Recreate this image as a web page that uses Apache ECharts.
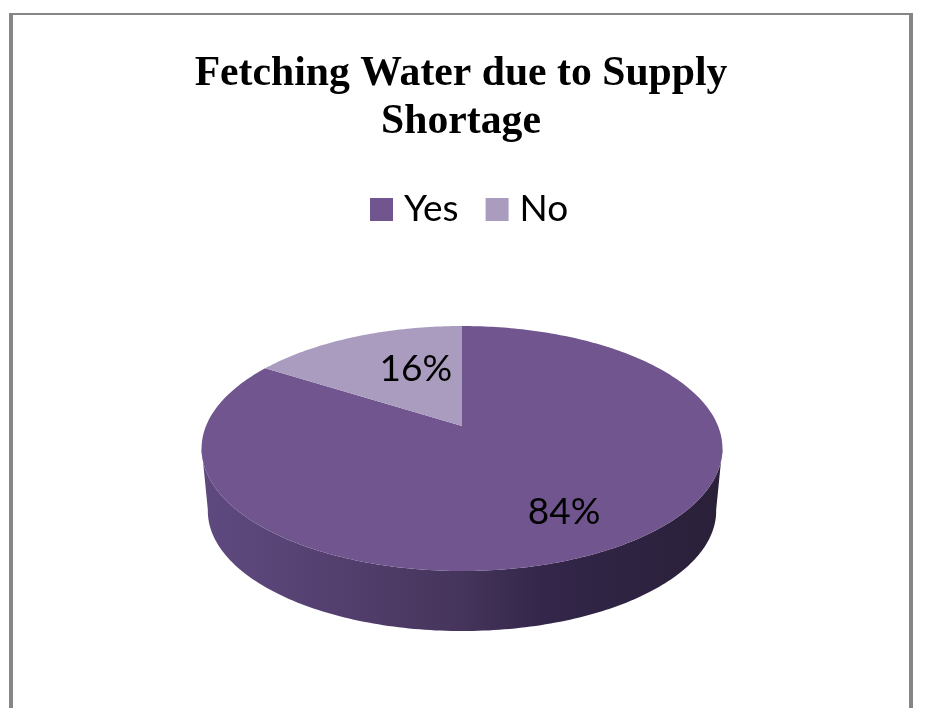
<!DOCTYPE html>
<html>
<head>
<meta charset="utf-8">
<style>html,body{margin:0;padding:0;background:#fff}#c{width:933px;height:708px}</style>
<script src="https://cdn.jsdelivr.net/npm/echarts@6/dist/echarts.min.js"></script>
</head>
<body>
<div id="c"></div>
<script>
const titleText = 'Fetching Water due to Supply\nShortage';
const categories = ['Yes', 'No'];
const shares = [84, 16];
const labels = ['84%', '16%'];
const colors = ['#70558f', '#aa9cbf'];

// Projected disc: a unit circle seen in perspective
const CX = 462, R = 256, PA = 40.1, PB = 426, PC = -0.1837;
function project(angleDeg, r) {
  const t = angleDeg * Math.PI / 180;
  const u = r * Math.sin(t), v = -r * Math.cos(t);
  const w = 1 + PC * v;
  return [CX + R * u / w, (PA * v + PB) / w];
}
function lower(p) { // bottom rim of the disc
  return [CX + (p[0] - CX) * 0.976, 511 + (p[1] - 448.5) * 0.98];
}
const total = shares.reduce((a, b) => a + b, 0);
const starts = shares.map((_, i) => shares.slice(0, i).reduce((a, b) => a + b, 0) / total * 360);

function sectorPoints(a0, a1) {
  const pts = [project(0, 0)];
  for (let a = a0; a < a1; a += 1) pts.push(project(a, 1));
  pts.push(project(a1, 1));
  return pts;
}
function wallElement() {
  const top = [], bottom = [];
  for (let a = 260; a >= 100; a -= 1) top.push(project(a, 1));
  for (let a = 100; a <= 260; a += 1) bottom.push(lower(project(a, 1)));
  return {
    type: 'polygon', silent: true,
    shape: { points: top.concat(bottom) },
    style: {
      fill: new echarts.graphic.LinearGradient(201, 0, 722, 0, [
        { offset: 0, color: '#5f4a80' },
        { offset: 0.25, color: '#54406f' },
        { offset: 0.5, color: '#45345b' },
        { offset: 0.66, color: '#33264a' },
        { offset: 1, color: '#2a2038' }
      ], true)
    }
  };
}
const labelPlace = [{ r: 0.73, shift: 0 }, { r: 0.564, shift: 8.3 }];

const series = categories.map((name, i) => ({
  name, type: 'custom', coordinateSystem: 'none', silent: true,
  itemStyle: { color: colors[i] },
  data: [shares[i]],
  z: 2 + i,
  renderItem(params, api) {
    const span = api.value(0) / total * 360;
    const a0 = starts[i], a1 = a0 + span;
    const c = project((a0 + a1) / 2 + labelPlace[i].shift, labelPlace[i].r);
    const children = [];
    if (i === 0) children.push(wallElement());
    children.push({ type: 'polygon', shape: { points: sectorPoints(a0, a1) }, style: { fill: colors[i] } });
    children.push({
      type: 'text', z2: 10,
      style: { text: labels[i], x: c[0], y: c[1], align: 'center', verticalAlign: 'middle',
               font: '37px Lato', fill: '#000' }
    });
    return { type: 'group', children };
  }
}));

const chart = echarts.init(document.getElementById('c'), null, { renderer: 'canvas' });
chart.setOption({
  animation: false,
  backgroundColor: '#ffffff',
  title: {
    text: titleText, left: 456, top: 45, textAlign: 'center',
    textStyle: { fontFamily: 'Liberation Serif', fontWeight: 'bold', fontSize: 41.7, lineHeight: 48, color: '#000' }
  },
  legend: {
    data: categories, left: 370, top: 191, icon: 'rect', itemWidth: 23, itemHeight: 23, itemGap: 27, padding: 0,
    textStyle: { fontFamily: 'Lato', fontSize: 37, color: '#000', padding: [0, 0, 0, 6] },
    selectedMode: false
  },
  graphic: [
    { type: 'line', silent: true, shape: { x1: 11, y1: 14, x2: 11, y2: 720 }, style: { stroke: '#868686', lineWidth: 4 } },
    { type: 'line', silent: true, shape: { x1: 911, y1: 14, x2: 911, y2: 720 }, style: { stroke: '#868686', lineWidth: 4 } },
    { type: 'line', silent: true, shape: { x1: 9, y1: 14, x2: 913, y2: 14 }, style: { stroke: '#868686', lineWidth: 2 } }
  ],
  series
});
</script>
</body>
</html>
